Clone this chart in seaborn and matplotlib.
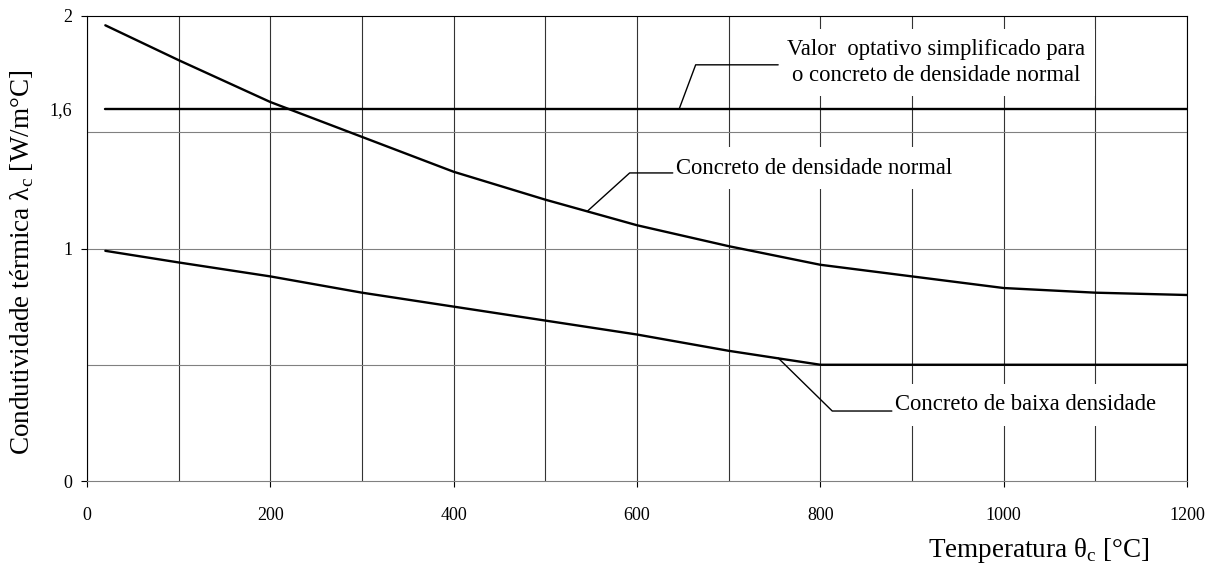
import numpy as np
import pandas as pd
import matplotlib
matplotlib.use("Agg")
import matplotlib.pyplot as plt
import seaborn as sns

# Dados
temp = [20, 100, 200, 300, 400, 500, 600, 700, 800, 900, 1000, 1100, 1200]
lambda_normal = [1.96, 1.81, 1.63, 1.48, 1.33, 1.21, 1.10, 1.01, 0.93, 0.88, 0.83, 0.81, 0.80]
lambda_baixa = [0.99, 0.94, 0.88, 0.81, 0.75, 0.69, 0.63, 0.56, 0.50, 0.50, 0.50, 0.50, 0.50]
temp_simpl = [20, 1200]
lambda_simpl = [1.6, 1.6]

xticks = [0, 200, 400, 600, 800, 1000, 1200]
yticks = [0, 1, 1.6, 2]
ytick_labels = ['0', '1', '1,6', '2']

sns.set_theme(style="white")
plt.rcParams['font.family'] = ['Liberation Serif', 'DejaVu Serif']
plt.rcParams['mathtext.fontset'] = 'custom'
plt.rcParams['mathtext.rm'] = 'Liberation Serif'
# texto em preto puro
for k in ['text.color', 'axes.labelcolor', 'xtick.color', 'ytick.color']:
    plt.rcParams[k] = 'black'

fig = plt.figure(figsize=(12.14, 5.71), dpi=100)
ax = fig.add_axes([87/1214, 1 - 481/571, 1100/1214, 465/571])

df_normal = pd.DataFrame({'temp': temp, 'lam': lambda_normal})
df_baixa = pd.DataFrame({'temp': temp, 'lam': lambda_baixa})
df_simpl = pd.DataFrame({'temp': temp_simpl, 'lam': lambda_simpl})

for d in [df_normal, df_baixa, df_simpl]:
    sns.lineplot(data=d, x='temp', y='lam', color='black', linewidth=1.7, ax=ax, zorder=5)

ax.set_xlim(0, 1200)
ax.set_ylim(0, 2)

# ticks e grade
ax.set_xticks(xticks)
ax.set_xticks(np.arange(100, 1200, 100), minor=True)
ax.set_yticks(yticks)
ax.set_yticklabels(ytick_labels)
ax.set_yticks([0.5, 1.0, 1.5], minor=True)
ax.yaxis.remove_overlapping_locs = False
ax.tick_params(axis='both', which='major', direction='out', length=4.5, width=0.8,
               color='black', labelcolor='black', labelsize=13, left=True, bottom=True)
ax.tick_params(axis='x', which='major', pad=14)
ax.tick_params(axis='y', which='major', pad=6)
ax.tick_params(axis='both', which='minor', length=0)
ax.yaxis.get_major_ticks()[2].tick1line.set_visible(False)

ax.grid(True, axis='x', which='both', color='#333333', linewidth=0.8)
ax.grid(True, axis='y', which='minor', color='#808080', linewidth=0.8)
ax.grid(False, axis='y', which='major')
ax.set_axisbelow(True)
for s in ax.spines.values():
    s.set_color('black')
    s.set_linewidth(0.8)
ax.spines['bottom'].set_color('#808080')

ax.set_xlabel(r'Temperatura θ$_\mathregular{c}$ [°C]', fontsize=19.5)
ax.xaxis.set_label_coords(0.865, -0.118)
ax.set_ylabel(r'Condutividade térmica λ$_\mathregular{c}$ [W/m°C]', fontsize=19.5)
ax.yaxis.set_label_coords(-0.046, 0.471)

# anotações com linhas de chamada
box = dict(facecolor='white', edgecolor='none', boxstyle='square,pad=0.45')
ax.plot([646, 664, 754], [1.6, 1.79, 1.79], color='black', linewidth=1.0, zorder=4)
ax.text(926, 1.80, 'Valor  optativo simplificado para\no concreto de densidade normal',
        ha='center', va='center', fontsize=16.3, linespacing=1.3, bbox=box, zorder=3)

ax.plot([546, 592, 639], [1.161, 1.325, 1.325], color='black', linewidth=1.0, zorder=4)
ax.text(642, 1.346, 'Concreto de densidade normal', ha='left', va='center',
        fontsize=16.3, bbox=box, zorder=3)

ax.plot([754, 813, 878], [0.529, 0.301, 0.301], color='black', linewidth=1.0, zorder=4)
ax.text(881, 0.327, 'Concreto de baixa densidade', ha='left', va='center',
        fontsize=16.3, bbox=box, zorder=3)

fig.savefig('out.png', dpi=100)
